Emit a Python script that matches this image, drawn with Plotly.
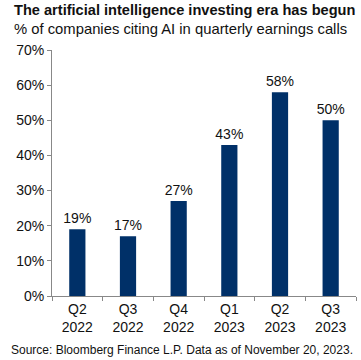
import plotly.graph_objects as go

categories = ["Q2<br>2022", "Q3<br>2022", "Q4<br>2022", "Q1<br>2023", "Q2<br>2023", "Q3<br>2023"]
values = [19, 17, 27, 43, 58, 50]
y_ticks = [0, 10, 20, 30, 40, 50, 60, 70]
y_tick_labels = [f"{v}%" for v in y_ticks]

FONT = "Liberation Sans, Arial, sans-serif"

fig = go.Figure(go.Bar(
    x=categories, y=values,
    marker=dict(color="#003068", line=dict(width=0)),
    width=0.32,
    text=[f"{v}%" for v in values],
    textposition="outside",
    constraintext="none",
    textfont=dict(size=14, color="#111111", family=FONT),
    cliponaxis=False,
))

fig.update_layout(
    width=361, height=360,
    margin=dict(l=52, r=5, t=50, b=64),
    plot_bgcolor="white", paper_bgcolor="white",
    font=dict(family=FONT, color="#111111"),
    showlegend=False,
    bargap=0.68,
)
fig.update_yaxes(
    range=[0, 70], tickvals=y_ticks, ticktext=y_tick_labels,
    showgrid=False, showline=True, linecolor="#888888", linewidth=1,
    ticks="outside", ticklen=4, tickcolor="#888888",
    tickfont=dict(size=14, color="#111111"), zeroline=False,
)
fig.update_xaxes(
    showgrid=False, showline=True, linecolor="#888888", linewidth=1,
    ticks="outside", ticklen=4, tickcolor="#888888", tickson="boundaries",
    tickfont=dict(size=14, color="#111111"),
)

fig.add_annotation(text="<b>The artificial intelligence investing era has begun</b>",
                   xref="paper", yref="paper", x=-0.13, y=1.163, xanchor="left", yanchor="middle",
                   showarrow=False, font=dict(size=14.6, color="#111111"))
fig.add_annotation(text="% of companies citing AI in quarterly earnings calls",
                   xref="paper", yref="paper", x=-0.13, y=1.085, xanchor="left", yanchor="middle",
                   showarrow=False, font=dict(size=14.8, color="#111111"))
fig.add_annotation(text="Source: Bloomberg Finance L.P. Data as of November 20, 2023.",
                   xref="paper", yref="paper", x=-0.142, y=-0.22, xanchor="left", yanchor="middle",
                   showarrow=False, font=dict(size=12, color="#111111"))

fig.write_html("out.html", config={"displayModeBar": False},
               post_script="document.body.style.margin='0';")
